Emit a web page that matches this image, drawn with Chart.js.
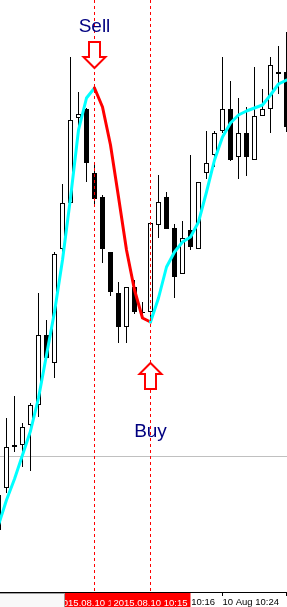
<!DOCTYPE html>
<html>
<head>
<meta charset="utf-8">
<script src="https://cdn.jsdelivr.net/npm/chart.js@4.4.0/dist/chart.umd.min.js"></script>
<style>
    html, body { margin: 0; padding: 0; background: #ffffff; }
    canvas { display: block; }
</style>
</head>
<body>
<canvas id="priceChart" width="287" height="607"></canvas>
<script>
// M1 bars, 10 Aug 2015 (first bar is cut by the left edge)
const times = ['09:56', '09:57', '09:58', '09:59', '10:00', '10:01', '10:02', '10:03', '10:04', '10:05',
    '10:06', '10:07', '10:08', '10:09', '10:10', '10:11', '10:12', '10:13', '10:14', '10:15',
    '10:16', '10:17', '10:18', '10:19', '10:20', '10:21', '10:22', '10:23', '10:24', '10:25',
    '10:26', '10:27', '10:28', '10:29', '10:30', '10:31', '10:32'];

const openPrices = [1.10070, 1.10112, 1.10153, 1.10155, 1.10175, 1.10195, 1.10265, 1.10237, 1.10351, 1.10397,
    1.10482, 1.10491, 1.10427, 1.10403, 1.10348, 1.10307, 1.10273, 1.10313, 1.10287, 1.10288,
    1.10375, 1.10403, 1.10372, 1.10326, 1.10370, 1.10351, 1.10427, 1.10445, 1.10469, 1.10491,
    1.10443, 1.10467, 1.10440, 1.10484, 1.10491, 1.10528, 1.10528];
const highPrices = [1.10113, 1.10182, 1.10204, 1.10177, 1.10197, 1.10307, 1.10280, 1.10348, 1.10416, 1.10543,
    1.10508, 1.10492, 1.10435, 1.10405, 1.10348, 1.10318, 1.10313, 1.10320, 1.10298, 1.10377,
    1.10425, 1.10408, 1.10376, 1.10379, 1.10445, 1.10418, 1.10469, 1.10469, 1.10543, 1.10519,
    1.10502, 1.10493, 1.10533, 1.10511, 1.10543, 1.10554, 1.10568];
const lowPrices = [1.10066, 1.10107, 1.10148, 1.10133, 1.10129, 1.10183, 1.10240, 1.10222, 1.10344, 1.10394,
    1.10468, 1.10418, 1.10395, 1.10337, 1.10304, 1.10257, 1.10257, 1.10286, 1.10284, 1.10278,
    1.10362, 1.10371, 1.10302, 1.10326, 1.10350, 1.10351, 1.10421, 1.10433, 1.10467, 1.10439,
    1.10421, 1.10424, 1.10440, 1.10484, 1.10467, 1.10506, 1.10468];
const closePrices = [1.10105, 1.10153, 1.10155, 1.10173, 1.10195, 1.10265, 1.10242, 1.10346, 1.10397, 1.10480,
    1.10486, 1.10437, 1.10401, 1.10351, 1.10308, 1.10273, 1.10313, 1.10288, 1.10287, 1.10377,
    1.10398, 1.10371, 1.10323, 1.10362, 1.10353, 1.10418, 1.10437, 1.10467, 1.10491, 1.10440,
    1.10467, 1.10443, 1.10484, 1.10491, 1.10535, 1.10526, 1.10473];

// smoothed moving average, red while falling between the two signals
const maValues = [1.10075, 1.10100, 1.10121, 1.10145, 1.10169, 1.10202, 1.10245, 1.10288, 1.10340, 1.10402,
    1.10470, 1.10502, 1.10512, 1.10493, 1.10455, 1.10403, 1.10350, 1.10310, 1.10282, 1.10278,
    1.10302, 1.10333, 1.10348, 1.10358, 1.10363, 1.10378, 1.10408, 1.10440, 1.10463, 1.10477,
    1.10485, 1.10489, 1.10492, 1.10495, 1.10505, 1.10516, 1.10520];

const tickIndex = [12, 20, 28, 36];
const tickLabels = ['10 Aug 10:08', '10 Aug 10:16', '10 Aug 10:24', '10 Aug 10:32'];

const signalIndex = [12, 19];
const signalLabels = ['Sell', 'Buy'];
const lineLabels = ['2015.08.10 10:08', '2015.08.10 10:15'];

const levelPrice = 1.10144;

document.addEventListener('DOMContentLoaded', () => {
    try {
        const ctx = document.getElementById('priceChart');
        if (!ctx) {
            console.error('priceChart canvas not found');
            return;
        }

        const wickData = times.map((t, i) => ({ x: i, y: [lowPrices[i], highPrices[i]] }));
        const bodyData = times.map((t, i) => ({ x: i, y: [openPrices[i], closePrices[i]] }));
        const bodyColors = times.map((t, i) => closePrices[i] >= openPrices[i] ? '#ffffff' : '#000000');
        const maData = times.map((t, i) => ({ x: i, y: maValues[i] }));

        // arrow outline, tip at (cx, tipY); dir 1 points down, -1 points up
        const drawArrow = (c, cx, tipY, dir) => {
            const hb = tipY - dir * 11;
            const tail = tipY - dir * 26;
            c.beginPath();
            c.moveTo(cx, tipY);
            c.lineTo(cx + 11, hb);
            c.lineTo(cx + 5.5, hb);
            c.lineTo(cx + 5.5, tail);
            c.lineTo(cx - 5.5, tail);
            c.lineTo(cx - 5.5, hb);
            c.lineTo(cx - 11, hb);
            c.closePath();
            c.fillStyle = '#ffffff';
            c.fill();
            c.lineWidth = 2;
            c.strokeStyle = '#ff0000';
            c.stroke();
        };

        const signalPlugin = {
            id: 'signals',
            beforeDatasetsDraw(chart) {
                const { ctx: c, chartArea, scales } = chart;
                const py = Math.round(scales.y.getPixelForValue(levelPrice)) + 0.5;
                c.save();
                c.strokeStyle = '#c0c0c0';
                c.lineWidth = 1;
                c.beginPath();
                c.moveTo(chartArea.left, py);
                c.lineTo(chartArea.right, py);
                c.stroke();
                c.restore();
            },
            afterDatasetsDraw(chart) {
                const { ctx: c, chartArea, scales } = chart;
                c.save();
                signalIndex.forEach((idx, j) => {
                    const px = scales.x.getPixelForValue(idx);
                    const maPx = scales.y.getPixelForValue(maValues[idx]);

                    // dotted vertical line
                    c.setLineDash([3, 3]);
                    c.strokeStyle = '#ff0000';
                    c.lineWidth = 1;
                    c.beginPath();
                    c.moveTo(px, chartArea.top);
                    c.lineTo(px, chartArea.bottom);
                    c.stroke();
                    c.setLineDash([]);

                    c.font = '19px "Liberation Sans", Arial, sans-serif';
                    c.textAlign = 'center';
                    c.textBaseline = 'alphabetic';
                    if (j === 0) {
                        drawArrow(c, px, maPx - 20, 1);
                        c.fillStyle = '#000080';
                        c.fillText(signalLabels[j], px, maPx - 56);
                    } else {
                        drawArrow(c, px, maPx + 41, -1);
                        c.fillStyle = '#000080';
                        c.fillText(signalLabels[j], px, maPx + 115);
                    }
                });
                c.restore();
            },
            afterDraw(chart) {
                const { ctx: c, chartArea, scales } = chart;
                const top = chartArea.bottom + 1;
                c.save();
                c.font = '9.5px "Liberation Sans", Arial, sans-serif';
                c.textAlign = 'center';
                c.textBaseline = 'alphabetic';
                signalIndex.forEach((idx, j) => {
                    const px = scales.x.getPixelForValue(idx);
                    const w = c.measureText(lineLabels[j]).width;
                    c.fillStyle = '#ff0000';
                    c.fillRect(px - w / 2 - 3, top, w + 6, chart.height - top);
                    c.fillStyle = '#ffffff';
                    c.fillText(lineLabels[j], px, chart.height - 1.5);
                });

                // small box at the bottom-left corner
                c.fillStyle = '#f8f8f8';
                c.fillRect(0, top, 65, chart.height - top);
                c.strokeStyle = '#a0a0a0';
                c.lineWidth = 1;
                c.strokeRect(-1, top + 0.5, 65.5, chart.height - top + 2);
                c.restore();
            }
        };

        new Chart(ctx, {
            type: 'bar',
            data: {
                datasets: [
                    {
                        type: 'line',
                        label: 'MA',
                        data: maData,
                        borderWidth: 3,
                        borderColor: '#00ffff',
                        pointRadius: 0,
                        tension: 0,
                        borderJoinStyle: 'round',
                        borderCapStyle: 'round',
                        segment: {
                            borderColor: s => (s.p0DataIndex >= signalIndex[0] && s.p1DataIndex <= signalIndex[1]) ? '#ff0000' : '#00ffff'
                        },
                        order: 1
                    },
                    {
                        label: 'Body',
                        data: bodyData,
                        backgroundColor: bodyColors,
                        borderColor: '#000000',
                        borderWidth: 1,
                        borderSkipped: false,
                        barThickness: 5,
                        minBarLength: 1,
                        inflateAmount: 0,
                        grouped: false,
                        order: 2
                    },
                    {
                        label: 'Wick',
                        data: wickData,
                        backgroundColor: '#000000',
                        borderWidth: 0,
                        barThickness: 1,
                        inflateAmount: 0,
                        grouped: false,
                        order: 3
                    }
                ]
            },
            options: {
                responsive: false,
                devicePixelRatio: 1,
                animation: false,
                layout: { padding: 0 },
                plugins: {
                    legend: { display: false },
                    tooltip: { enabled: false }
                },
                scales: {
                    x: {
                        type: 'linear',
                        offset: false,
                        min: 0.1875,
                        max: 36.0625,
                        afterBuildTicks: axis => {
                            axis.ticks = tickIndex.map(v => ({ value: v }));
                        },
                        afterFit: axis => {
                            axis.height = 15;
                            axis.paddingLeft = 0;
                            axis.paddingRight = 0;
                        },
                        grid: {
                            offset: false,
                            drawOnChartArea: false,
                            drawTicks: true,
                            tickLength: 4,
                            color: '#000000'
                        },
                        border: {
                            display: true,
                            color: '#000000',
                            width: 1
                        },
                        ticks: {
                            align: 'start',
                            autoSkip: false,
                            maxRotation: 0,
                            padding: 1,
                            color: '#000000',
                            font: { family: '"Liberation Sans", Arial, sans-serif', size: 9.5 },
                            callback: value => tickLabels[tickIndex.indexOf(value)]
                        }
                    },
                    y: {
                        type: 'linear',
                        display: false,
                        min: 1.10008,
                        max: 1.10600
                    }
                }
            },
            plugins: [signalPlugin]
        });
    } catch (error) {
        console.error('Error drawing chart:', error);
    }
});
</script>
</body>
</html>
